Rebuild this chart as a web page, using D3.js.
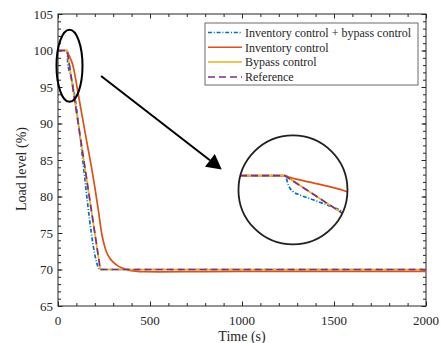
<!DOCTYPE html>
<html>
<head>
<meta charset="utf-8">
<script src="https://cdn.jsdelivr.net/npm/d3@7"></script>
<style>
  body { margin: 0; background: #fff; }
  text { font-family: "Liberation Serif", "Times New Roman", serif; fill: #262626; }
</style>
</head>
<body>
<div id="chart"></div>
<script>
// Data (time in s, load level in %)
const refT = [0, 50, 230, 2000];
const refV = [100, 100, 70, 70];

const bypassT = [0, 50, 230, 2000];
const bypassV = [100, 100, 70, 70];

const invT = [0, 50, 52.5, 65, 80, 90, 100, 120, 140, 160, 180, 200, 220, 237, 250, 262, 280, 300, 325, 350, 380, 420, 470, 550, 800, 1200, 2000];
const invV = [100, 100, 99.78, 99.03, 98.05, 96.9, 95.5, 92.6, 89.8, 87.0, 84.3, 81.3, 78.0, 75.0, 73.5, 72.5, 71.6, 71.0, 70.5, 70.2, 69.95, 69.78, 69.7, 69.68, 69.72, 69.74, 69.75];

const bothT = [0, 50, 51, 51.65, 52.5, 54.15, 57.5, 62.5, 67, 71, 74, 230, 2000];
const bothV = [100, 100, 99.4, 98.82, 98.4, 97.96, 97.54, 97.08, 96.66, 96.3, 96.0, 70, 70];

const xTicks = [0, 500, 1000, 1500, 2000];
const yTicks = [65, 70, 75, 80, 85, 90, 95, 100, 105];

const series = [
  { name: "Inventory control + bypass control", t: bothT, v: bothV, color: "#0072BD", dash: "4,1.8,1,1.8", curve: d3.curveMonotoneX },
  { name: "Inventory control", t: invT, v: invV, color: "#D95319", dash: null, curve: d3.curveMonotoneX },
  { name: "Bypass control", t: bypassT, v: bypassV, color: "#EDB120", dash: null, curve: d3.curveLinear },
  { name: "Reference", t: refT, v: refV, color: "#7E2F8E", dash: "7,4", curve: d3.curveLinear }
];

const W = 441, H = 343;
const margin = { left: 58, top: 14, right: 15, bottom: 37 };
const pw = W - margin.left - margin.right;
const ph = H - margin.top - margin.bottom;

const svg = d3.select("#chart").append("svg")
  .attr("width", W).attr("height", H);

const x = d3.scaleLinear().domain([0, 2000]).range([margin.left, margin.left + pw]);
const y = d3.scaleLinear().domain([65, 105]).range([margin.top + ph, margin.top]);

svg.append("clipPath").attr("id", "plotClip")
  .append("rect").attr("x", margin.left).attr("y", margin.top).attr("width", pw).attr("height", ph);

// axes with inward ticks, mirrored on top and right
function tickAxis(axisFn, scale, major, minor, transform) {
  svg.append("g").attr("transform", transform)
    .call(axisFn(scale).tickValues(minor).tickSize(-3).tickFormat(""))
    .call(g => g.select(".domain").remove())
    .selectAll("line").attr("stroke", "#262626");
  svg.append("g").attr("transform", transform)
    .call(axisFn(scale).tickValues(major).tickSize(-4.5).tickFormat(""))
    .call(g => g.select(".domain").remove())
    .selectAll("line").attr("stroke", "#262626");
}
const xMinor = d3.range(0, 2001, 100);
const yMinor = d3.range(65, 106, 1);
tickAxis(d3.axisBottom, x, xTicks, xMinor, `translate(0,${margin.top + ph})`);
tickAxis(d3.axisTop, x, xTicks, xMinor, `translate(0,${margin.top})`);
tickAxis(d3.axisLeft, y, yTicks, yMinor, `translate(${margin.left},0)`);
tickAxis(d3.axisRight, y, yTicks, yMinor, `translate(${margin.left + pw},0)`);

svg.append("rect")
  .attr("x", margin.left).attr("y", margin.top).attr("width", pw).attr("height", ph)
  .attr("fill", "none").attr("stroke", "#262626").attr("stroke-width", 1);

// tick labels
svg.append("g").selectAll("text").data(xTicks).enter().append("text")
  .attr("x", d => x(d)).attr("y", margin.top + ph + 19)
  .attr("text-anchor", "middle").style("font-size", "13px")
  .text(d => d);
svg.append("g").selectAll("text").data(yTicks).enter().append("text")
  .attr("x", margin.left - 5).attr("y", d => y(d)).attr("dy", "0.35em")
  .attr("text-anchor", "end").style("font-size", "13px")
  .text(d => d);

svg.append("text")
  .attr("x", margin.left + pw / 2).attr("y", H - 2)
  .attr("text-anchor", "middle").style("font-size", "14px")
  .text("Time (s)");
svg.append("text")
  .attr("transform", `translate(26,169) rotate(-90)`)
  .attr("text-anchor", "middle").style("font-size", "14px")
  .text("Load level (%)");

// main lines
const plotG = svg.append("g").attr("clip-path", "url(#plotClip)");
function drawSeries(g, sx, sy) {
  series.forEach(s => {
    const pts = s.t.map((t, i) => [t, s.v[i]]);
    const line = d3.line().x(d => sx(d[0])).y(d => sy(d[1])).curve(s.curve);
    g.append("path").datum(pts)
      .attr("d", line)
      .attr("fill", "none")
      .attr("stroke", s.color)
      .attr("stroke-width", 1.7)
      .attr("stroke-dasharray", s.dash);
  });
}
drawSeries(plotG, x, y);

// ellipse marking the zoomed region
svg.append("ellipse")
  .attr("cx", x(62.5)).attr("cy", y(97.9))
  .attr("rx", 13).attr("ry", 36)
  .attr("fill", "none").attr("stroke", "#000").attr("stroke-width", 2);

// arrow
const a0 = [x(234), y(96.5)], a1 = [x(890), y(83.7)];
const dx = a1[0] - a0[0], dy = a1[1] - a0[1], len = Math.hypot(dx, dy);
const ux = dx / len, uy = dy / len;
const headL = 15, headW = 8;
const base = [a1[0] - ux * headL, a1[1] - uy * headL];
svg.append("line")
  .attr("x1", a0[0]).attr("y1", a0[1]).attr("x2", base[0]).attr("y2", base[1])
  .attr("stroke", "#000").attr("stroke-width", 2);
svg.append("path")
  .attr("d", `M${a1[0]},${a1[1]}L${base[0] - uy * headW},${base[1] + ux * headW}L${base[0] + uy * headW},${base[1] - ux * headW}Z`)
  .attr("fill", "#000");

// circular inset (zoom of the start of the transient)
const cx = x(1277), cy = y(80.9), cr = 54.5;
svg.append("clipPath").attr("id", "insetClip")
  .append("circle").attr("cx", cx).attr("cy", cy).attr("r", cr);
const xIn = d3.scaleLinear().domain([50, 80]).range([285, 345]);
const yIn = d3.scaleLinear().domain([100, 95]).range([175.7, 215]);
const insetG = svg.append("g").attr("clip-path", "url(#insetClip)");
drawSeries(insetG, xIn, yIn);
svg.append("circle")
  .attr("cx", cx).attr("cy", cy).attr("r", cr)
  .attr("fill", "none").attr("stroke", "#231f1c").attr("stroke-width", 1.8);

// legend
const lg = svg.append("g").attr("transform", "translate(205,23)");
lg.append("rect").attr("width", 213).attr("height", 62)
  .attr("fill", "#fff").attr("stroke", "#6b6b6b").attr("stroke-width", 1);
series.forEach((s, i) => {
  const yy = 9.5 + i * 14.8;
  lg.append("line")
    .attr("x1", 3).attr("x2", 37).attr("y1", yy).attr("y2", yy)
    .attr("stroke", s.color).attr("stroke-width", 1.5)
    .attr("stroke-dasharray", s.dash);
  lg.append("text")
    .attr("x", 40).attr("y", yy).attr("dy", "0.35em")
    .style("font-size", "12px")
    .text(s.name);
});
</script>
</body>
</html>
